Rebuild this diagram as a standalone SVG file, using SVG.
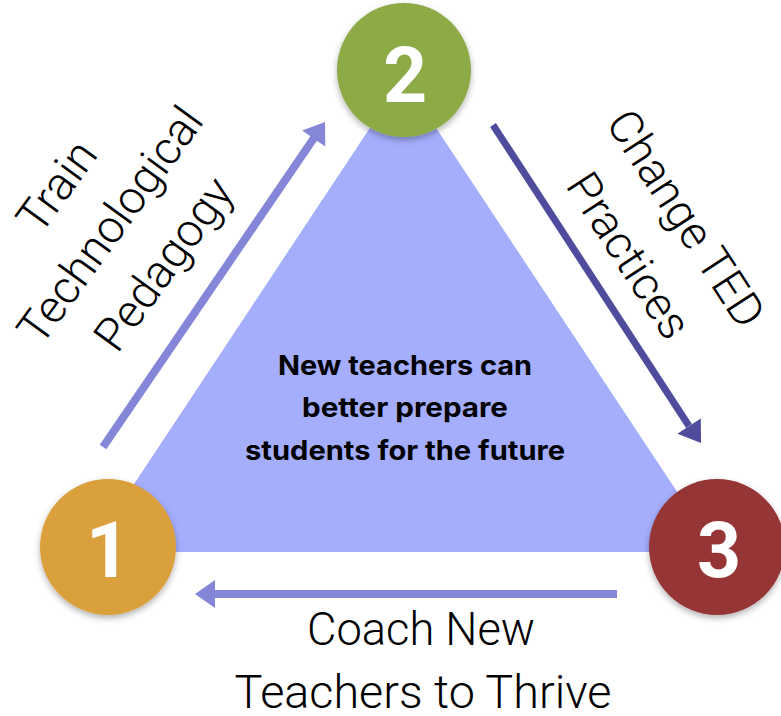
<svg xmlns="http://www.w3.org/2000/svg" width="781" height="716" viewBox="0 0 781 716">
<defs>
<filter id="sh" x="-20%" y="-20%" width="140%" height="150%">
<feDropShadow dx="0" dy="3" stdDeviation="3" flood-color="#000" flood-opacity="0.3"/>
</filter>
<style>
.num{font-family:Roboto,"Liberation Sans",sans-serif;font-weight:700;font-size:77px;fill:#fff;text-anchor:middle}
.lbl{font-family:Roboto,"Liberation Sans",sans-serif;font-weight:300;font-size:46px;fill:#000;text-anchor:middle}
.ctr{font-family:Inter,Roboto,"Liberation Sans",sans-serif;font-weight:700;font-size:27px;fill:#000;text-anchor:middle}
.lt{stroke:#8486D8;stroke-width:8;fill:none}
.dk{stroke:#4F4B9D;stroke-width:7;fill:none}
</style>
</defs>
<rect width="781" height="716" fill="#fff"/>
<g id="triangle">
<polygon points="403,78 717,552 89,552" fill="#A4AEFD"/>
<text class="ctr" x="405" y="375" textLength="254" lengthAdjust="spacingAndGlyphs">New teachers can</text>
<text class="ctr" x="405" y="417" textLength="206" lengthAdjust="spacingAndGlyphs">better prepare</text>
<text class="ctr" x="405" y="460" textLength="320" lengthAdjust="spacingAndGlyphs">students for the future</text>
</g>
<g id="connectors">
<line class="lt" x1="103" y1="447" x2="314" y2="138"/>
<polygon points="325,122 325.3,146.4 302.1,130.6" fill="#8486D8"/>
<line class="dk" x1="493" y1="125" x2="689" y2="426"/>
<polygon points="701,443 677.4,433.8 700.8,418.6" fill="#4F4B9D"/>
<line class="lt" x1="617" y1="594" x2="213" y2="594"/>
<polygon points="195,594 215,580 215,608" fill="#8486D8"/>
</g>
<g id="label-left" transform="translate(110,225) rotate(-54)">
<text class="lbl" x="0" y="-50">Train</text>
<text class="lbl" x="0" y="16">Technological</text>
<text class="lbl" x="0" y="82">Pedagogy</text>
</g>
<g id="label-right" transform="translate(656,238) rotate(57)">
<text class="lbl" x="0" y="-20">Change TED</text>
<text class="lbl" x="0" y="48">Practices</text>
</g>
<g id="label-bottom">
<text class="lbl" x="421" y="645" textLength="228" lengthAdjust="spacingAndGlyphs">Coach New</text>
<text class="lbl" x="423" y="708" textLength="377" lengthAdjust="spacingAndGlyphs">Teachers to Thrive</text>
</g>
<g id="node1">
<circle cx="108" cy="547" r="68" fill="#D9A03B" filter="url(#sh)"/>
<text class="num" x="108" y="577">1</text>
</g>
<g id="node2">
<circle cx="404" cy="70" r="67" fill="#8CAB46" filter="url(#sh)"/>
<text class="num" x="405" y="102">2</text>
</g>
<g id="node3">
<circle cx="717" cy="547" r="68" fill="#963436" filter="url(#sh)"/>
<text class="num" x="719" y="577">3</text>
</g>
</svg>
